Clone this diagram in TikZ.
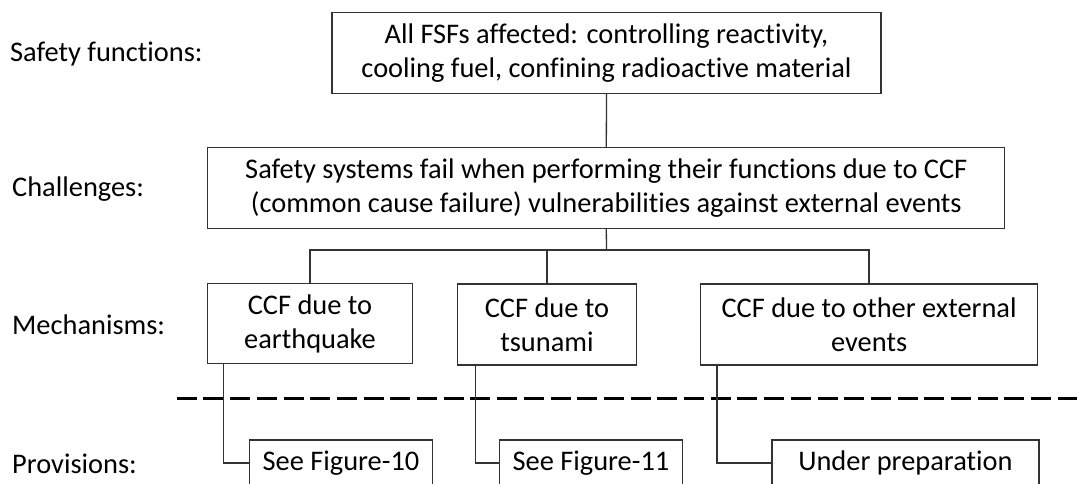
\documentclass[tikz,border=0pt]{standalone}
\usepackage{fontspec}
\setmainfont{Carlito}[Ligatures=NoCommon]
\begin{document}
\begin{tikzpicture}[x=1pt,y=-1pt,
  box/.style={draw=black!80, line width=1.3pt, fill=white, align=center,
    inner sep=0pt, font=\fontsize{28.4}{34}\selectfont},
  rowlabel/.style={anchor=west, inner sep=0pt, font=\fontsize{28.4}{34}\selectfont},
  link/.style={draw=black!80, line width=1.3pt},
  divider/.style={draw=black, line width=2.2pt, dash pattern=on 20pt off 6.7pt}]
\useasboundingbox (0,0) rectangle (1077,483);
\clip (0,0) rectangle (1077,483);

% row labels
\node[rowlabel] (lsf)  at (10,54)  {Safety functions:};
\node[rowlabel] (lch)  at (12,189) {Challenges:};
\node[rowlabel] (lme)  at (12,325) {Mechanisms:};
\node[rowlabel] (lpr)  at (12,464) {Provisions:};

% boxes
\node[box, minimum width=549pt, minimum height=81pt] (fsf) at (606.5,52.7)
  {All FSFs affected: controlling reactivity,\\cooling fuel, confining radioactive material};
\node[box, minimum width=797pt, minimum height=81pt] (chal) at (606.3,188)
  {Safety systems fail when performing their functions due to CCF\\(common cause failure) vulnerabilities against external events};
\node[box, minimum width=205pt, minimum height=80pt] (eq) at (310,323.5)
  {CCF due to\\earthquake};
\node[box, minimum width=179pt, minimum height=81pt] (ts) at (547,324.5)
  {CCF due to\\tsunami};
\node[box, minimum width=337pt, minimum height=81pt] (oth) at (869.1,324.5)
  {CCF due to other external\\events};
\node[box, minimum width=182.5pt, minimum height=46pt] (p10) at (341,463)
  {See Figure-10};
\node[box, minimum width=182.5pt, minimum height=46pt] (p11) at (591,463)
  {See Figure-11};
\node[box, minimum width=267pt, minimum height=46pt] (pprep) at (905.4,463)
  {Under preparation};

% tree connectors
\coordinate (split) at (606.5,250);
\draw[link] (fsf.south) -- (chal.north);
\draw[link] (chal.south) -- (split);
\draw[link] (eq.north) |- (split) -| (oth.north);
\draw[link] (ts.north) -- (ts.north |- split);

% boundary between mechanisms and provisions
\coordinate (dl) at (176.7,398.5);
\coordinate (dr) at (1080,398.5);
\draw[divider] (dl) -- (dr);

% mechanism-to-provision elbows
\draw[link] ([xshift=16.6pt]eq.south west) |- (p10.west);
\draw[link] ([xshift=18.3pt]ts.south west) |- (p11.west);
\draw[link] ([xshift=17pt]oth.south west) |- (pprep.west);
\end{tikzpicture}
\end{document}
